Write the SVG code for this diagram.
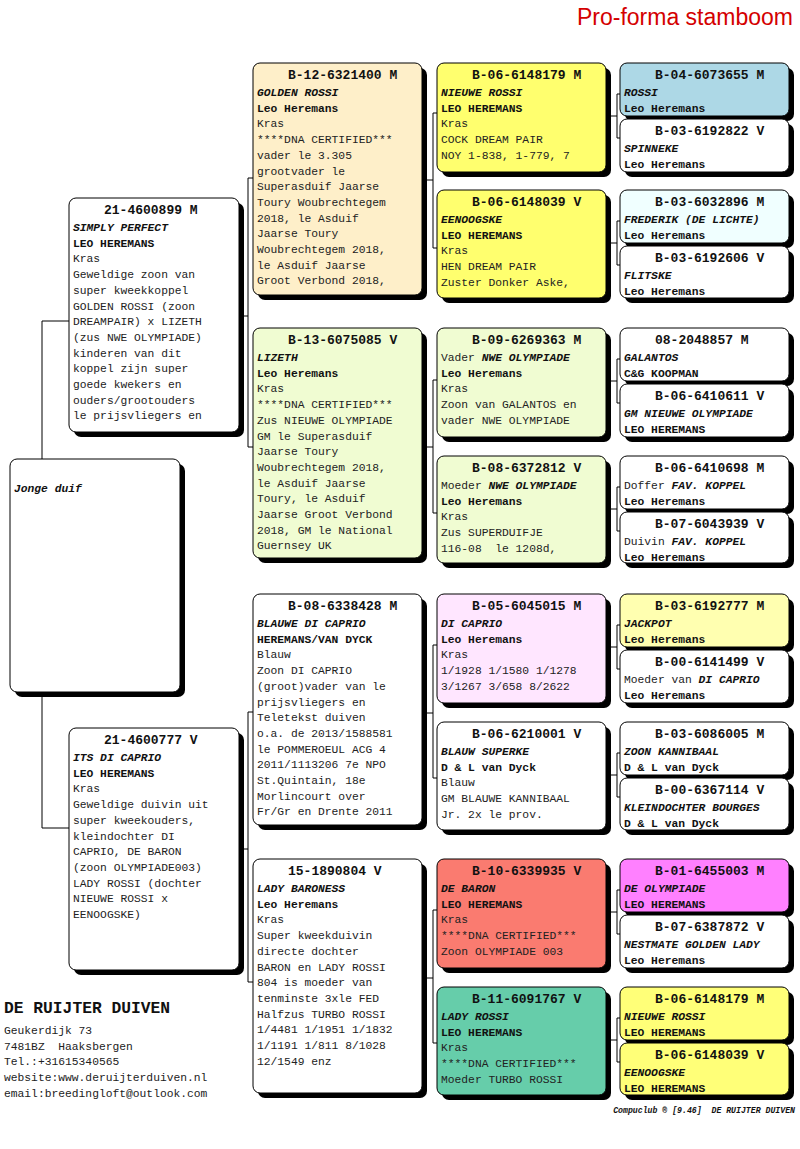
<svg xmlns="http://www.w3.org/2000/svg" width="800" height="1149" viewBox="0 0 800 1149">
<style>
.sh{fill:#000}
.box{stroke:#000;stroke-width:1}
.t{font-family:"Liberation Mono","Courier New",monospace;font-size:11.3px;fill:#222}
.id{font-size:13px;font-weight:bold;fill:#111}
.nm{font-style:italic;font-weight:bold;fill:#111}
.ow{font-weight:bold;fill:#111}
.con{fill:none;stroke:#000;stroke-width:1}
</style>
<rect width="800" height="1149" fill="#fff"/>
<text x="793" y="25" text-anchor="end" font-family="Liberation Sans, Arial, sans-serif" font-size="23" fill="#D40000">Pro-forma stamboom</text>

<g id="connectors" class="con">
<path d="M69,321H42V828H69"/>
<path d="M238,316H248M253,178H248V447H253"/>
<path d="M239,849H248M253,712H248V982H253"/>
<path d="M423,180H433M437,113H433V248H437"/>
<path d="M423,447H433M437,380H433V513H437"/>
<path d="M423,713H433M437,645H433V778H437"/>
<path d="M423,978H433M437,910H433V1043H437"/>
<path d="M607,116H617M620,94H617V138H620"/>
<path d="M607,243H617M620,221H617V265H620"/>
<path d="M607,381H617M620,359H617V403H620"/>
<path d="M607,509H617M620,487H617V531H620"/>
<path d="M607,647H617M620,625H617V669H620"/>
<path d="M607,775H617M620,753H617V797H620"/>
<path d="M607,912H617M620,890H617V934H620"/>
<path d="M607,1040H617M620,1018H617V1062H620"/>
</g>

<g id="n-jonge">
<rect class="sh" x="15" y="464" width="170" height="233" rx="7"/>
<rect class="box" x="10" y="459" width="170" height="233" rx="7" fill="#fff"/>
<text class="t nm" x="14" y="492">Jonge duif</text>
</g>

<g id="n-simply">
<rect class="sh" x="74" y="203" width="170" height="234" rx="7"/>
<rect class="box" x="69" y="198" width="170" height="234" rx="7" fill="#fff"/>
<text class="t" y="214"><tspan x="104" class="id">21-4600899 M</tspan><tspan x="73" dy="17" class="nm">SIMPLY PERFECT</tspan><tspan x="73" dy="15.7" class="ow">LEO HEREMANS</tspan><tspan x="73" dy="15.7">Kras</tspan><tspan x="73" dy="15.7">Geweldige zoon van</tspan><tspan x="73" dy="15.7">super kweekkoppel</tspan><tspan x="73" dy="15.7">GOLDEN ROSSI (zoon</tspan><tspan x="73" dy="15.7">DREAMPAIR) x LIZETH</tspan><tspan x="73" dy="15.7">(zus NWE OLYMPIADE)</tspan><tspan x="73" dy="15.7">kinderen van dit</tspan><tspan x="73" dy="15.7">koppel zijn super</tspan><tspan x="73" dy="15.7">goede kwekers en</tspan><tspan x="73" dy="15.7">ouders/grootouders</tspan><tspan x="73" dy="15.7">le prijsvliegers en</tspan></text>
</g>

<g id="n-its">
<rect class="sh" x="74" y="733" width="170" height="242" rx="7"/>
<rect class="box" x="69" y="728" width="170" height="242" rx="7" fill="#fff"/>
<text class="t" y="744"><tspan x="104" class="id">21-4600777 V</tspan><tspan x="73" dy="17" class="nm">ITS DI CAPRIO</tspan><tspan x="73" dy="15.7" class="ow">LEO HEREMANS</tspan><tspan x="73" dy="15.7">Kras</tspan><tspan x="73" dy="15.7">Geweldige duivin uit</tspan><tspan x="73" dy="15.7">super kweekouders,</tspan><tspan x="73" dy="15.7">kleindochter DI</tspan><tspan x="73" dy="15.7">CAPRIO, DE BARON</tspan><tspan x="73" dy="15.7">(zoon OLYMPIADE003)</tspan><tspan x="73" dy="15.7">LADY ROSSI (dochter</tspan><tspan x="73" dy="15.7">NIEUWE ROSSI x</tspan><tspan x="73" dy="15.7">EENOOGSKE)</tspan></text>
</g>

<g id="n-golden">
<rect class="sh" x="258" y="68" width="169" height="232" rx="7"/>
<rect class="box" x="253" y="63" width="169" height="232" rx="7" fill="#FEEFC9"/>
<text class="t" y="79"><tspan x="288" class="id">B-12-6321400 M</tspan><tspan x="257" dy="17" class="nm">GOLDEN ROSSI</tspan><tspan x="257" dy="15.7" class="ow">Leo Heremans</tspan><tspan x="257" dy="15.7">Kras</tspan><tspan x="257" dy="15.7">****DNA CERTIFIED***</tspan><tspan x="257" dy="15.7">vader le 3.305</tspan><tspan x="257" dy="15.7">grootvader le</tspan><tspan x="257" dy="15.7">Superasduif Jaarse</tspan><tspan x="257" dy="15.7">Toury Woubrechtegem</tspan><tspan x="257" dy="15.7">2018, le Asduif</tspan><tspan x="257" dy="15.7">Jaarse Toury</tspan><tspan x="257" dy="15.7">Woubrechtegem 2018,</tspan><tspan x="257" dy="15.7">le Asduif Jaarse</tspan><tspan x="257" dy="15.7">Groot Verbond 2018,</tspan></text>
</g>

<g id="n-lizeth">
<rect class="sh" x="258" y="333" width="169" height="230" rx="7"/>
<rect class="box" x="253" y="328" width="169" height="230" rx="7" fill="#F0FCD2"/>
<text class="t" y="344"><tspan x="288" class="id">B-13-6075085 V</tspan><tspan x="257" dy="17" class="nm">LIZETH</tspan><tspan x="257" dy="15.7" class="ow">Leo Heremans</tspan><tspan x="257" dy="15.7">Kras</tspan><tspan x="257" dy="15.7">****DNA CERTIFIED***</tspan><tspan x="257" dy="15.7">Zus NIEUWE OLYMPIADE</tspan><tspan x="257" dy="15.7">GM le Superasduif</tspan><tspan x="257" dy="15.7">Jaarse Toury</tspan><tspan x="257" dy="15.7">Woubrechtegem 2018,</tspan><tspan x="257" dy="15.7">le Asduif Jaarse</tspan><tspan x="257" dy="15.7">Toury, le Asduif</tspan><tspan x="257" dy="15.7">Jaarse Groot Verbond</tspan><tspan x="257" dy="15.7">2018, GM le National</tspan><tspan x="257" dy="15.7">Guernsey UK</tspan></text>
</g>

<g id="n-blauwe">
<rect class="sh" x="258" y="599" width="169" height="231" rx="7"/>
<rect class="box" x="253" y="594" width="169" height="231" rx="7" fill="#fff"/>
<text class="t" y="610"><tspan x="288" class="id">B-08-6338428 M</tspan><tspan x="257" dy="17" class="nm">BLAUWE DI CAPRIO</tspan><tspan x="257" dy="15.7" class="ow">HEREMANS/VAN DYCK</tspan><tspan x="257" dy="15.7">Blauw</tspan><tspan x="257" dy="15.7">Zoon DI CAPRIO</tspan><tspan x="257" dy="15.7">(groot)vader van le</tspan><tspan x="257" dy="15.7">prijsvliegers en</tspan><tspan x="257" dy="15.7">Teletekst duiven</tspan><tspan x="257" dy="15.7">o.a. de 2013/1588581</tspan><tspan x="257" dy="15.7">le POMMEROEUL ACG 4</tspan><tspan x="257" dy="15.7">2011/1113206 7e NPO</tspan><tspan x="257" dy="15.7">St.Quintain, 18e</tspan><tspan x="257" dy="15.7">Morlincourt over</tspan><tspan x="257" dy="15.7">Fr/Gr en Drente 2011</tspan></text>
</g>

<g id="n-baroness">
<rect class="sh" x="258" y="864" width="169" height="234" rx="7"/>
<rect class="box" x="253" y="859" width="169" height="234" rx="7" fill="#fff"/>
<text class="t" y="875"><tspan x="288" class="id">15-1890804 V</tspan><tspan x="257" dy="17" class="nm">LADY BARONESS</tspan><tspan x="257" dy="15.7" class="ow">Leo Heremans</tspan><tspan x="257" dy="15.7">Kras</tspan><tspan x="257" dy="15.7">Super kweekduivin</tspan><tspan x="257" dy="15.7">directe dochter</tspan><tspan x="257" dy="15.7">BARON en LADY ROSSI</tspan><tspan x="257" dy="15.7">804 is moeder van</tspan><tspan x="257" dy="15.7">tenminste 3xle FED</tspan><tspan x="257" dy="15.7">Halfzus TURBO ROSSI</tspan><tspan x="257" dy="15.7">1/4481 1/1951 1/1832</tspan><tspan x="257" dy="15.7">1/1191 1/811 8/1028</tspan><tspan x="257" dy="15.7">12/1549 enz</tspan></text>
</g>

<g id="n-nieuwe-rossi">
<rect class="sh" x="442" y="68" width="169" height="109" rx="7"/>
<rect class="box" x="437" y="63" width="169" height="109" rx="7" fill="#FFFF6E"/>
<text class="t" y="79"><tspan x="472" class="id">B-06-6148179 M</tspan><tspan x="441" dy="17" class="nm">NIEUWE ROSSI</tspan><tspan x="441" dy="15.7" class="ow">LEO HEREMANS</tspan><tspan x="441" dy="15.7">Kras</tspan><tspan x="441" dy="15.7">COCK DREAM PAIR</tspan><tspan x="441" dy="15.7">NOY 1-838, 1-779, 7</tspan></text>
</g>

<g id="n-eenoogske">
<rect class="sh" x="442" y="195" width="169" height="108" rx="7"/>
<rect class="box" x="437" y="190" width="169" height="108" rx="7" fill="#FFFF6E"/>
<text class="t" y="206"><tspan x="472" class="id">B-06-6148039 V</tspan><tspan x="441" dy="17" class="nm">EENOOGSKE</tspan><tspan x="441" dy="15.7" class="ow">LEO HEREMANS</tspan><tspan x="441" dy="15.7">Kras</tspan><tspan x="441" dy="15.7">HEN DREAM PAIR</tspan><tspan x="441" dy="15.7">Zuster Donker Aske,</tspan></text>
</g>

<g id="n-vader-nwe">
<rect class="sh" x="442" y="333" width="169" height="109" rx="7"/>
<rect class="box" x="437" y="328" width="169" height="109" rx="7" fill="#F0FCD2"/>
<text class="t" y="344"><tspan x="472" class="id">B-09-6269363 M</tspan><tspan x="441" dy="17">Vader <tspan class="nm">NWE OLYMPIADE</tspan></tspan><tspan x="441" dy="15.7" class="ow">Leo Heremans</tspan><tspan x="441" dy="15.7">Kras</tspan><tspan x="441" dy="15.7">Zoon van GALANTOS en</tspan><tspan x="441" dy="15.7">vader NWE OLYMPIADE</tspan></text>
</g>

<g id="n-moeder-nwe">
<rect class="sh" x="442" y="461" width="169" height="107" rx="7"/>
<rect class="box" x="437" y="456" width="169" height="107" rx="7" fill="#F0FCD2"/>
<text class="t" y="472"><tspan x="472" class="id">B-08-6372812 V</tspan><tspan x="441" dy="17">Moeder <tspan class="nm">NWE OLYMPIADE</tspan></tspan><tspan x="441" dy="15.7" class="ow">Leo Heremans</tspan><tspan x="441" dy="15.7">Kras</tspan><tspan x="441" dy="15.7">Zus SUPERDUIFJE</tspan><tspan x="441" dy="15.7">116-08&#160; le 1208d,</tspan></text>
</g>

<g id="n-dicaprio">
<rect class="sh" x="442" y="599" width="169" height="109" rx="7"/>
<rect class="box" x="437" y="594" width="169" height="109" rx="7" fill="#FFE6FF"/>
<text class="t" y="610"><tspan x="472" class="id">B-05-6045015 M</tspan><tspan x="441" dy="17" class="nm">DI CAPRIO</tspan><tspan x="441" dy="15.7" class="ow">Leo Heremans</tspan><tspan x="441" dy="15.7">Kras</tspan><tspan x="441" dy="15.7">1/1928 1/1580 1/1278</tspan><tspan x="441" dy="15.7">3/1267 3/658 8/2622</tspan></text>
</g>

<g id="n-blauw-superke">
<rect class="sh" x="442" y="727" width="169" height="108" rx="7"/>
<rect class="box" x="437" y="722" width="169" height="108" rx="7" fill="#fff"/>
<text class="t" y="738"><tspan x="472" class="id">B-06-6210001 V</tspan><tspan x="441" dy="17" class="nm">BLAUW SUPERKE</tspan><tspan x="441" dy="15.7" class="ow">D &amp; L van Dyck</tspan><tspan x="441" dy="15.7">Blauw</tspan><tspan x="441" dy="15.7">GM BLAUWE KANNIBAAL</tspan><tspan x="441" dy="15.7">Jr. 2x le prov.</tspan></text>
</g>

<g id="n-de-baron">
<rect class="sh" x="442" y="864" width="169" height="109" rx="7"/>
<rect class="box" x="437" y="859" width="169" height="109" rx="7" fill="#FA7B70"/>
<text class="t" y="875"><tspan x="472" class="id">B-10-6339935 V</tspan><tspan x="441" dy="17" class="nm">DE BARON</tspan><tspan x="441" dy="15.7" class="ow">LEO HEREMANS</tspan><tspan x="441" dy="15.7">Kras</tspan><tspan x="441" dy="15.7">****DNA CERTIFIED***</tspan><tspan x="441" dy="15.7">Zoon OLYMPIADE 003</tspan></text>
</g>

<g id="n-lady-rossi">
<rect class="sh" x="442" y="992" width="169" height="108" rx="7"/>
<rect class="box" x="437" y="987" width="169" height="108" rx="7" fill="#66CDAA"/>
<text class="t" y="1003"><tspan x="472" class="id">B-11-6091767 V</tspan><tspan x="441" dy="17" class="nm">LADY ROSSI</tspan><tspan x="441" dy="15.7" class="ow">LEO HEREMANS</tspan><tspan x="441" dy="15.7">Kras</tspan><tspan x="441" dy="15.7">****DNA CERTIFIED***</tspan><tspan x="441" dy="15.7">Moeder TURBO ROSSI</tspan></text>
</g>

<g id="n-rossi">
<rect class="sh" x="625" y="68" width="169" height="53" rx="7"/>
<rect class="box" x="620" y="63" width="169" height="53" rx="7" fill="#ADD8E6"/>
<text class="t" y="79"><tspan x="655" class="id">B-04-6073655 M</tspan><tspan x="624" dy="17" class="nm">ROSSI</tspan><tspan x="624" dy="15.7" class="ow">Leo Heremans</tspan></text>
</g>
<g id="n-spinneke">
<rect class="sh" x="625" y="124" width="169" height="53" rx="7"/>
<rect class="box" x="620" y="119" width="169" height="53" rx="7" fill="#fff"/>
<text class="t" y="135"><tspan x="655" class="id">B-03-6192822 V</tspan><tspan x="624" dy="17" class="nm">SPINNEKE</tspan><tspan x="624" dy="15.7" class="ow">Leo Heremans</tspan></text>
</g>
<g id="n-frederik">
<rect class="sh" x="625" y="195" width="169" height="53" rx="7"/>
<rect class="box" x="620" y="190" width="169" height="53" rx="7" fill="#F0FFFF"/>
<text class="t" y="206"><tspan x="655" class="id">B-03-6032896 M</tspan><tspan x="624" dy="17" class="nm">FREDERIK (DE LICHTE)</tspan><tspan x="624" dy="15.7" class="ow">Leo Heremans</tspan></text>
</g>
<g id="n-flitske">
<rect class="sh" x="625" y="251" width="169" height="52" rx="7"/>
<rect class="box" x="620" y="246" width="169" height="52" rx="7" fill="#fff"/>
<text class="t" y="262"><tspan x="655" class="id">B-03-6192606 V</tspan><tspan x="624" dy="17" class="nm">FLITSKE</tspan><tspan x="624" dy="15.7" class="ow">Leo Heremans</tspan></text>
</g>
<g id="n-galantos">
<rect class="sh" x="625" y="333" width="169" height="53" rx="7"/>
<rect class="box" x="620" y="328" width="169" height="53" rx="7" fill="#fff"/>
<text class="t" y="344"><tspan x="655" class="id">08-2048857 M</tspan><tspan x="624" dy="17" class="nm">GALANTOS</tspan><tspan x="624" dy="15.7" class="ow">C&amp;G KOOPMAN</tspan></text>
</g>
<g id="n-gm-nieuwe">
<rect class="sh" x="625" y="389" width="169" height="53" rx="7"/>
<rect class="box" x="620" y="384" width="169" height="53" rx="7" fill="#fff"/>
<text class="t" y="400"><tspan x="655" class="id">B-06-6410611 V</tspan><tspan x="624" dy="17" class="nm">GM NIEUWE OLYMPIADE</tspan><tspan x="624" dy="15.7" class="ow">LEO HEREMANS</tspan></text>
</g>
<g id="n-doffer">
<rect class="sh" x="625" y="461" width="169" height="53" rx="7"/>
<rect class="box" x="620" y="456" width="169" height="53" rx="7" fill="#fff"/>
<text class="t" y="472"><tspan x="655" class="id">B-06-6410698 M</tspan><tspan x="624" dy="17">Doffer <tspan class="nm">FAV. KOPPEL</tspan></tspan><tspan x="624" dy="15.7" class="ow">Leo Heremans</tspan></text>
</g>
<g id="n-duivin">
<rect class="sh" x="625" y="517" width="169" height="51" rx="7"/>
<rect class="box" x="620" y="512" width="169" height="51" rx="7" fill="#fff"/>
<text class="t" y="528"><tspan x="655" class="id">B-07-6043939 V</tspan><tspan x="624" dy="17">Duivin <tspan class="nm">FAV. KOPPEL</tspan></tspan><tspan x="624" dy="15.7" class="ow">Leo Heremans</tspan></text>
</g>
<g id="n-jackpot">
<rect class="sh" x="625" y="599" width="169" height="53" rx="7"/>
<rect class="box" x="620" y="594" width="169" height="53" rx="7" fill="#FFFFB0"/>
<text class="t" y="610"><tspan x="655" class="id">B-03-6192777 M</tspan><tspan x="624" dy="17" class="nm">JACKPOT</tspan><tspan x="624" dy="15.7" class="ow">Leo Heremans</tspan></text>
</g>
<g id="n-moeder-dicaprio">
<rect class="sh" x="625" y="655" width="169" height="53" rx="7"/>
<rect class="box" x="620" y="650" width="169" height="53" rx="7" fill="#fff"/>
<text class="t" y="666"><tspan x="655" class="id">B-00-6141499 V</tspan><tspan x="624" dy="17">Moeder van <tspan class="nm">DI CAPRIO</tspan></tspan><tspan x="624" dy="15.7" class="ow">Leo Heremans</tspan></text>
</g>
<g id="n-zoon-kannibaal">
<rect class="sh" x="625" y="727" width="169" height="53" rx="7"/>
<rect class="box" x="620" y="722" width="169" height="53" rx="7" fill="#fff"/>
<text class="t" y="738"><tspan x="655" class="id">B-03-6086005 M</tspan><tspan x="624" dy="17" class="nm">ZOON KANNIBAAL</tspan><tspan x="624" dy="15.7" class="ow">D &amp; L van Dyck</tspan></text>
</g>
<g id="n-kleindochter">
<rect class="sh" x="625" y="783" width="169" height="52" rx="7"/>
<rect class="box" x="620" y="778" width="169" height="52" rx="7" fill="#fff"/>
<text class="t" y="794"><tspan x="655" class="id">B-00-6367114 V</tspan><tspan x="624" dy="17" class="nm">KLEINDOCHTER BOURGES</tspan><tspan x="624" dy="15.7" class="ow">D &amp; L van Dyck</tspan></text>
</g>
<g id="n-de-olympiade">
<rect class="sh" x="625" y="864" width="169" height="53" rx="7"/>
<rect class="box" x="620" y="859" width="169" height="53" rx="7" fill="#FF80FF"/>
<text class="t" y="875"><tspan x="655" class="id">B-01-6455003 M</tspan><tspan x="624" dy="17" class="nm">DE OLYMPIADE</tspan><tspan x="624" dy="15.7" class="ow">LEO HEREMANS</tspan></text>
</g>
<g id="n-nestmate">
<rect class="sh" x="625" y="920" width="169" height="53" rx="7"/>
<rect class="box" x="620" y="915" width="169" height="53" rx="7" fill="#fff"/>
<text class="t" y="931"><tspan x="655" class="id">B-07-6387872 V</tspan><tspan x="624" dy="17" class="nm">NESTMATE GOLDEN LADY</tspan><tspan x="624" dy="15.7" class="ow">Leo Heremans</tspan></text>
</g>
<g id="n-nieuwe-rossi-2">
<rect class="sh" x="625" y="992" width="169" height="53" rx="7"/>
<rect class="box" x="620" y="987" width="169" height="53" rx="7" fill="#FFFF78"/>
<text class="t" y="1003"><tspan x="655" class="id">B-06-6148179 M</tspan><tspan x="624" dy="17" class="nm">NIEUWE ROSSI</tspan><tspan x="624" dy="15.7" class="ow">LEO HEREMANS</tspan></text>
</g>
<g id="n-eenoogske-2">
<rect class="sh" x="625" y="1048" width="169" height="52" rx="7"/>
<rect class="box" x="620" y="1043" width="169" height="52" rx="7" fill="#FFFF78"/>
<text class="t" y="1059"><tspan x="655" class="id">B-06-6148039 V</tspan><tspan x="624" dy="17" class="nm">EENOOGSKE</tspan><tspan x="624" dy="15.7" class="ow">LEO HEREMANS</tspan></text>
</g>

<g id="address">
<text x="4" y="1013" font-family="Liberation Mono, monospace" font-size="16.3" font-weight="bold" fill="#111">DE RUIJTER DUIVEN</text>
<text class="t" y="1034"><tspan x="4">Geukerdijk 73</tspan><tspan x="4" dy="15.7">7481BZ&#160; Haaksbergen</tspan><tspan x="4" dy="15.7">Tel.:+31615340565</tspan><tspan x="4" dy="15.7">website:www.deruijterduiven.nl</tspan><tspan x="4" dy="15.7">email:breedingloft@outlook.com</tspan></text>
</g>
<text x="795" y="1113" text-anchor="end" font-family="Liberation Mono, monospace" font-size="8.2" font-style="italic" font-weight="bold" fill="#111">Compuclub ® [9.46]&#160; DE RUIJTER DUIVEN</text>
</svg>
